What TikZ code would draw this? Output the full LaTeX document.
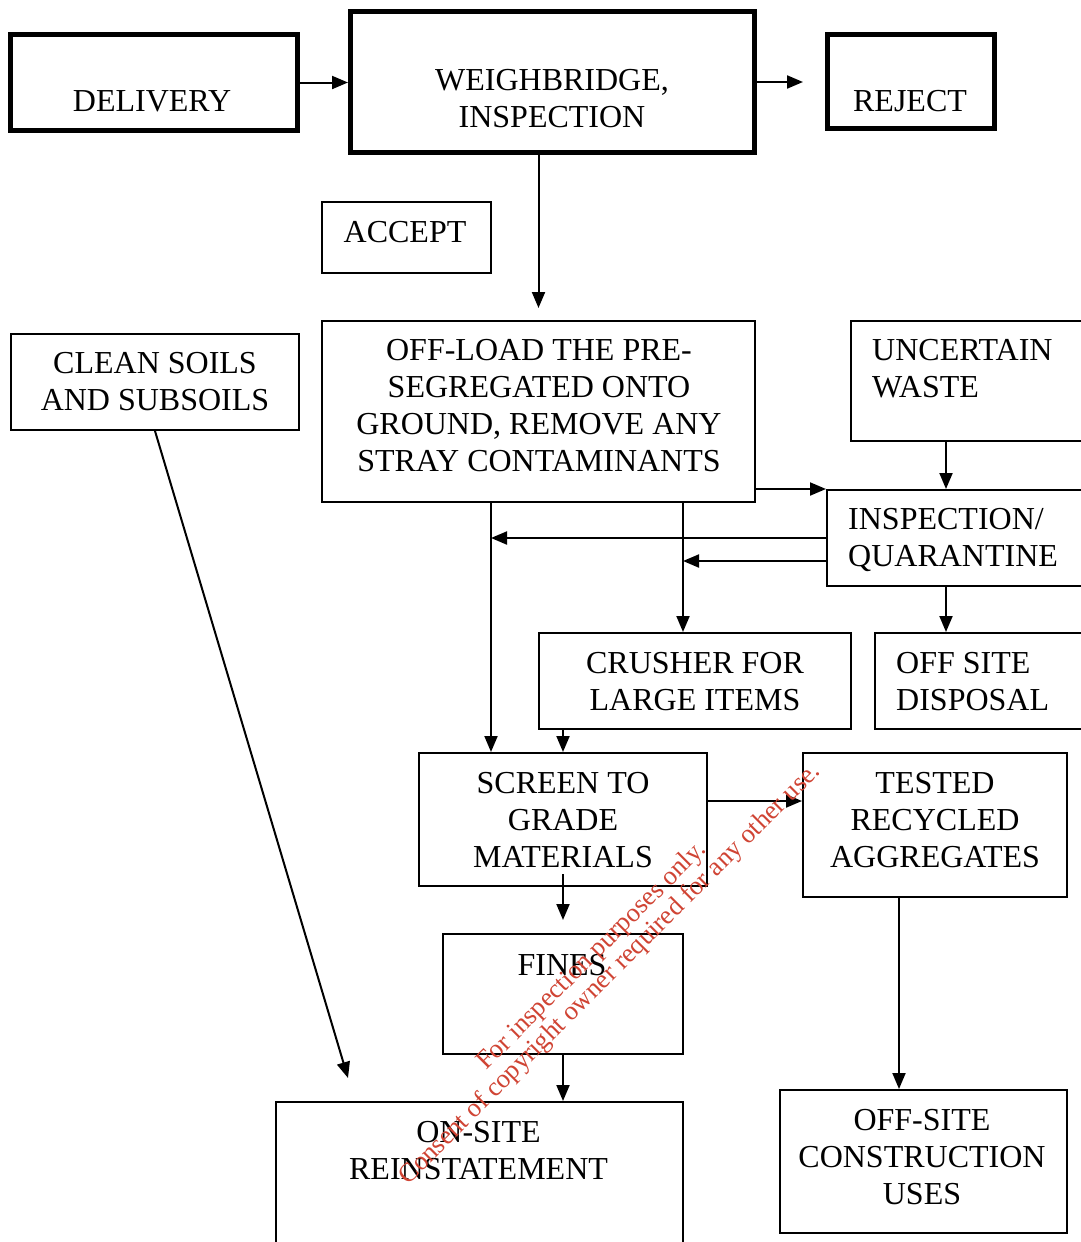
\documentclass[tikz,border=0pt]{standalone}
\usepackage{fontspec}
\setmainfont{Liberation Serif}
\usepackage{xcolor}
\usetikzlibrary{arrows.meta, fit, calc}

\definecolor{stampred}{RGB}{208,68,52}

\begin{document}
\begin{tikzpicture}[ x = 1pt, y = -1pt
                   , >={Triangle[width=13pt, length=16pt]}
                   , box/.style = { draw = black
                                  , line width = 2pt
                                  , inner sep = 0pt }
                   , heavybox/.style = { box, line width = 5pt }
                   , txt/.style = { inner sep = 0pt
                                  , align = center
                                  , anchor = base
                                  , font = \fontsize{32}{37}\selectfont }
                   , txtl/.style = { txt, align = left, anchor = base west }
                   , arr/.style = { ->, line width = 2pt }
                   , stamp/.style = { text = stampred
                                    , rotate = 45
                                    , align = center
                                    , inner sep = 0pt
                                    , anchor = base
                                    , font = \fontsize{26.5}{26}\selectfont }
                   ]

  \useasboundingbox (0,0) rectangle (1081,1242);
  \clip (0,0) rectangle (1081,1242);
  \fill[white] (0,0) rectangle (1081,1242);

  % boxes
  \node (delivery) [heavybox, fit = {(10.5,34.5) (297,130.5)}] {};
  \node (weigh) [heavybox, fit = {(350.5,11.5) (754.5,152.5)}] {};
  \node (reject) [heavybox, fit = {(827.5,34.5) (994.5,128.5)}] {};
  \node (accept) [box, fit = {(322,202) (491,273)}] {};
  \node (clean) [box, fit = {(11,334) (299,430)}] {};
  \node (offload) [box, fit = {(322,321) (755,502)}] {};
  \node (uncertain) [box, fit = {(851,321) (1095,441)}] {};
  \node (quarantine) [box, fit = {(827,490) (1095,586)}] {};
  \node (crusher) [box, fit = {(539,633) (851,729)}] {};
  \node (disposal) [box, fit = {(875,633) (1095,729)}] {};
  \node (screen) [box, fit = {(419,753) (707,886)}] {};
  \node (tested) [box, fit = {(803,753) (1067,897)}] {};
  \node (fines) [box, fit = {(443,934) (683,1054)}] {};
  \node (onsite) [box, fit = {(276,1102) (683,1260)}] {};
  \node (offsite) [box, fit = {(780,1090) (1067,1233)}] {};

  % texts (placed at the baseline of their last line)
  \node (delivery-t) [txt] at (152,111.5) {DELIVERY};
  \node (weigh-t) [txt] at (552,127) {WEIGHBRIDGE,\\INSPECTION};
  \node (reject-t) [txt] at (910,111.5) {REJECT};
  \node (accept-t) [txt] at (405,242) {ACCEPT};
  \node (clean-t) [txt] at (155,410) {CLEAN SOILS\\AND SUBSOILS};
  \node (offload-t) [txt] at (539,471.5)
    {OFF-LOAD THE PRE-\\SEGREGATED ONTO\\GROUND, REMOVE ANY\\STRAY CONTAMINANTS};
  \node (uncertain-t) [txtl] at (872,397.5) {UNCERTAIN\\WASTE};
  \node (quarantine-t) [txtl] at (848,566.5) {INSPECTION/\\QUARANTINE};
  \node (crusher-t) [txt] at (695,710) {CRUSHER FOR\\LARGE ITEMS};
  \node (disposal-t) [txtl] at (896,710) {OFF SITE\\DISPOSAL};
  \node (screen-t) [txt] at (563,867) {SCREEN TO\\GRADE\\MATERIALS};
  \node (tested-t) [txt] at (935,867) {TESTED\\RECYCLED\\AGGREGATES};
  \node (fines-t) [txt] at (562,975) {FINES};
  \node (onsite-t) [txt] at (478.5,1179) {ON-SITE\\REINSTATEMENT};
  \node (offsite-t) [txt] at (922,1204.5) {OFF-SITE\\CONSTRUCTION\\USES};

  % feed points
  \coordinate (drop) at ([xshift=96pt]uncertain.south west);
  \coordinate (left-feed) at ([xshift=170pt]offload.south west);
  \coordinate (mid-feed) at ([xshift=362pt]offload.south west);
  \coordinate (soil-drop) at (348,1078);

  % connectors
  \draw[arr] (delivery.east) -- (delivery.east -| weigh.west);
  \draw[arr] (weigh.east) -- ([xshift=-22pt]weigh.east -| reject.west);
  \draw[arr] (weigh.south -| offload.north) -- ([yshift=12pt]offload.north);
  \draw[arr] (offload.east |- quarantine.north) -- (quarantine.north west);
  \draw[arr] (drop) -- (drop |- quarantine.north);
  \draw[arr] (quarantine.south -| drop) -- (drop |- disposal.north);
  \draw[arr] (left-feed) -- (left-feed |- screen.north);
  \draw[arr] (mid-feed) -- (mid-feed |- crusher.north);
  \draw[arr] (quarantine.west) -- (quarantine.west -| left-feed);
  \draw[arr] ([yshift=-23pt]quarantine.west) -- ([yshift=-23pt]quarantine.west -| mid-feed);
  \draw[arr] (crusher.south -| screen.north) -- (screen.north);
  \draw[arr] ([yshift=18.5pt]screen.east) -- ([yshift=18.5pt]screen.east -| tested.west);
  \draw[arr] ([yshift=13pt]screen.south) -- ([yshift=13pt]fines.north);
  \draw[arr] (fines.south) -- (fines.south |- onsite.north);
  \draw[arr] ([xshift=-36pt]tested.south) -- ([xshift=-36pt]tested.south |- offsite.north);
  \draw[arr] (clean.south) -- (soil-drop);

  % watermark
  \node (stamp-t) [stamp] at (615,979)
    {For inspection purposes only.\\Consent of copyright owner required for any other use.};

\end{tikzpicture}
\end{document}
